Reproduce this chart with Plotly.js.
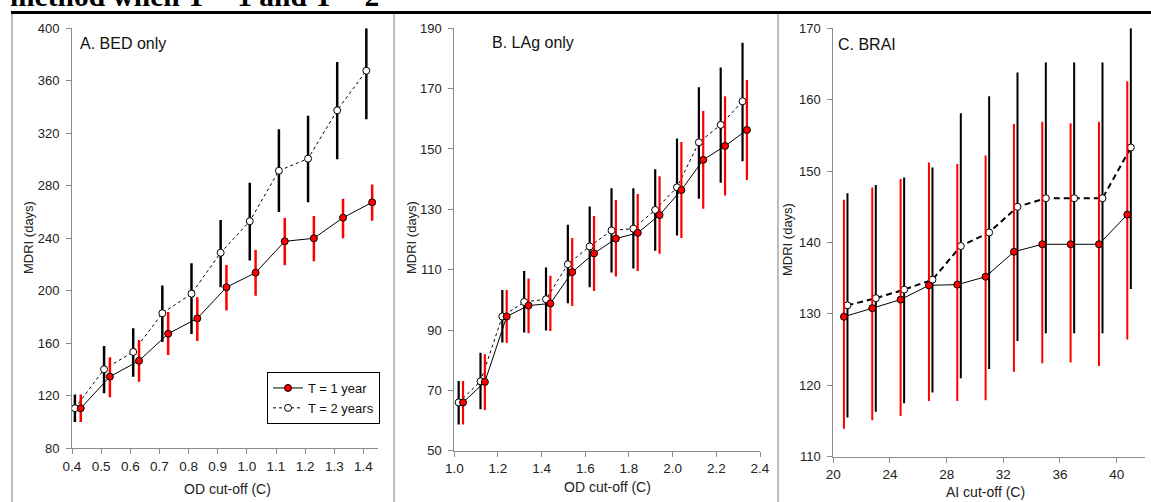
<!DOCTYPE html>
<html>
<head>
<meta charset="utf-8">
<script src="https://cdn.plot.ly/plotly-3.0.1.min.js"></script>
<style>
html,body{margin:0;padding:0;background:#fff;}
#chart{width:1151px;height:502px;}
</style>
</head>
<body>
<div id="chart"></div>
<script>
// ---------- Data ----------
// Panel A: BED only
var aX1 = [0.43, 0.53, 0.63, 0.73, 0.83, 0.93, 1.03, 1.13, 1.23, 1.33, 1.43];
var aY1 = [110.5, 134.6, 146.7, 167.3, 179, 202.7, 213.8, 237.7, 240, 255.7, 267.4];
var aHi1 = [121, 149.3, 162.5, 183.8, 195, 219.7, 231, 255.5, 257, 270.2, 281];
var aLo1 = [100, 118.9, 130.8, 151, 161.7, 184.9, 196.3, 219.4, 222.5, 240, 253.4];
var aX2 = [0.41, 0.51, 0.61, 0.71, 0.81, 0.91, 1.01, 1.11, 1.21, 1.31, 1.41];
var aY2 = [110.5, 140.2, 153.4, 182.9, 197.8, 229, 253, 291.5, 300.7, 337.5, 367.7];
var aHi2 = [121, 158, 171.4, 204, 221, 254, 282.4, 323, 333.4, 374.3, 400];
var aLo2 = [100, 122, 134.5, 161, 167, 202.7, 223, 260, 267.4, 300.2, 330.7];

// Panel B: LAg only
var bX1 = [1.04, 1.14, 1.24, 1.34, 1.44, 1.54, 1.64, 1.74, 1.84, 1.94, 2.04, 2.14, 2.24, 2.34];
var bY1 = [66, 72.8, 94.5, 98.1, 98.8, 109.2, 115.4, 120.3, 122.2, 128.1, 136.4, 146.4, 151, 156.3];
var bHi1 = [73.1, 82, 103.3, 107.1, 108, 120.5, 127.8, 133.1, 135.1, 141, 152.3, 162.6, 167.5, 172.9];
var bLo1 = [58.7, 63.5, 85.8, 88.9, 89.7, 98, 102.9, 107.7, 109.6, 115.3, 120.5, 130.2, 134.6, 139.7];
var bX2 = [1.02, 1.12, 1.22, 1.32, 1.42, 1.52, 1.62, 1.72, 1.82, 1.92, 2.02, 2.12, 2.22, 2.32];
var bY2 = [66, 73, 94.5, 99.3, 100.2, 111.8, 117.7, 123, 123.6, 129.8, 137.3, 152.2, 158, 165.8];
var bHi2 = [73.1, 82.5, 103.3, 109.6, 110.7, 124.9, 130.9, 137, 137, 143.3, 153.5, 170.5, 177, 185.2];
var bLo2 = [58.7, 63.7, 85.9, 89.2, 89.8, 98.9, 104.2, 109.1, 110.4, 116.3, 121.3, 133.5, 138.8, 145.9];

// Panel C: BRAI
var cX1 = [20.75, 22.75, 24.75, 26.75, 28.75, 30.75, 32.75, 34.75, 36.75, 38.75, 40.75];
var cY1 = [129.6, 130.8, 132, 134, 134.1, 135.2, 138.7, 139.75, 139.75, 139.75, 143.9];
var cHi1 = [146, 147.7, 148.9, 151.2, 151, 152.2, 156.6, 156.9, 156.7, 156.9, 162.6];
var cLo1 = [113.9, 115.1, 115.7, 117.8, 117.8, 117.9, 121.9, 123.1, 123.2, 122.7, 126.4];
var cX2 = [21, 23, 25, 27, 29, 31, 33, 35, 37, 39, 41];
var cY2 = [131.2, 132.2, 133.4, 134.8, 139.5, 141.4, 145, 146.2, 146.2, 146.2, 153.3];
var cHi2 = [146.9, 148.05, 149.1, 150.5, 158.1, 160.5, 163.8, 165.2, 165.2, 165.2, 170];
var cLo2 = [115.5, 116.3, 117.5, 119, 121, 122.3, 126.2, 127.3, 127.3, 127.3, 133.5];

var seriesNames = ["T = 1 year", "T = 2 years"];
var panelLabels = ["A. BED only", "B. LAg only", "C. BRAI"];
var xTitles = ["OD cut-off (C)", "OD cut-off (C)", "AI cut-off (C)"];
var yTitle = "MDRI (days)";
var pageTitle = "method when T = 1 and T = 2";

// ---------- Build ----------
var W = 1151, H = 502;
function px(x){ return x / W; }
function py(y){ return 1 - y / H; }

function plus(hi, y){ return hi.map(function(v,i){ return v - y[i]; }); }
function minus(lo, y){ return lo.map(function(v,i){ return y[i] - v; }); }

var FONT = "Liberation Sans, Arial, sans-serif";

function seriesPair(x1,y1,hi1,lo1,x2,y2,hi2,lo2,xa,ya,opt){
  var t2 = {
    x: x2, y: y2, xaxis: xa, yaxis: ya, type: 'scatter', mode: 'lines+markers',
    name: seriesNames[1], showlegend: opt.legend, legendrank: 2,
    line: {color: '#000', width: opt.dashW, dash: opt.dash},
    marker: {symbol: 'circle', size: 7, color: '#fff', line: {color: '#000', width: 1}},
    error_y: {type: 'data', symmetric: false, array: plus(hi2,y2), arrayminus: minus(lo2,y2),
              color: '#000', thickness: opt.barW, width: 0},
    cliponaxis: false
  };
  var t1 = {
    x: x1, y: y1, xaxis: xa, yaxis: ya, type: 'scatter', mode: 'lines+markers',
    name: seriesNames[0], showlegend: opt.legend, legendrank: 1,
    line: {color: '#000', width: 1},
    marker: {symbol: 'circle', size: 7, color: '#ff0000', line: {color: '#000', width: 1}},
    error_y: {type: 'data', symmetric: false, array: plus(hi1,y1), arrayminus: minus(lo1,y1),
              color: '#ff0000', thickness: opt.barW, width: 0},
    cliponaxis: false
  };
  return [t2, t1];
}

var data = []
  .concat(seriesPair(aX1,aY1,aHi1,aLo1,aX2,aY2,aHi2,aLo2,'x','y',{legend:true,dash:'3px,3px',dashW:1,barW:2.5}))
  .concat(seriesPair(bX1,bY1,bHi1,bLo1,bX2,bY2,bHi2,bLo2,'x2','y2',{legend:false,dash:'3px,3px',dashW:1,barW:2.2}))
  .concat(seriesPair(cX1,cY1,cHi1,cLo1,cX2,cY2,cHi2,cLo2,'x3','y3',{legend:false,dash:'6px,4px',dashW:2,barW:2}));

function xAxis(domain, range, dtick, anchor){
  return {domain: domain, range: range, dtick: dtick, tick0: range[0], anchor: anchor,
    showgrid: false, zeroline: false, showline: true, linecolor: '#8c8c8c', linewidth: 1,
    ticks: 'outside', ticklen: 5, tickcolor: '#8c8c8c', tickwidth: 1,
    tickfont: {family: FONT, size: 13.5, color: '#222'}, fixedrange: true};
}
function yAxis(domain, range, dtick, anchor){
  return {domain: domain, range: range, dtick: dtick, tick0: range[0], anchor: anchor,
    showgrid: false, zeroline: false, showline: true, linecolor: '#8c8c8c', linewidth: 1,
    ticks: 'outside', ticklen: 5, tickcolor: '#8c8c8c', tickwidth: 1, ticklabelstandoff: 4,
    tickfont: {family: FONT, size: 13, color: '#222'}, fixedrange: true};
}

var ann = [];
// page title (cut off at top, as in the reference)
ann.push({text: '<b>' + pageTitle + '</b>', xref: 'paper', yref: 'paper', x: px(8), y: py(-4),
  xanchor: 'left', yanchor: 'middle', showarrow: false,
  font: {family: 'Liberation Serif, Times New Roman, serif', size: 29.5, color: '#000'}});
// panel labels
var labPos = [[78, 43], [490, 42], [836, 44]];
labPos.forEach(function(p, i){
  ann.push({text: panelLabels[i], xref: 'paper', yref: 'paper', x: px(p[0]), y: py(p[1]),
    xanchor: 'left', yanchor: 'middle', showarrow: false,
    font: {family: FONT, size: 16, color: '#111'}});
});
// axis titles
var xtPos = [[227, 489], [607, 487], [985, 492]];
xtPos.forEach(function(p, i){
  ann.push({text: xTitles[i], xref: 'paper', yref: 'paper', x: px(p[0]), y: py(p[1]),
    xanchor: 'center', yanchor: 'middle', showarrow: false,
    font: {family: FONT, size: 14, color: '#222'}});
});
var ytPos = [[28, 238], [411, 238], [787, 240]];
ytPos.forEach(function(p){
  ann.push({text: yTitle, xref: 'paper', yref: 'paper', x: px(p[0]), y: py(p[1]),
    xanchor: 'center', yanchor: 'middle', showarrow: false, textangle: -90,
    font: {family: FONT, size: 13, color: '#222'}});
});

var shapes = [
  {type: 'line', xref: 'paper', yref: 'paper', x0: px(11), x1: 1, y0: py(12.5), y1: py(12.5),
   line: {color: '#000', width: 3}},
  {type: 'line', xref: 'paper', yref: 'paper', x0: px(12), x1: px(12), y0: py(14), y1: 0,
   line: {color: '#a6a6a6', width: 1.5}},
  {type: 'line', xref: 'paper', yref: 'paper', x0: px(394), x1: px(394), y0: py(14), y1: 0,
   line: {color: '#a6a6a6', width: 1.5}},
  {type: 'line', xref: 'paper', yref: 'paper', x0: px(778), x1: px(778), y0: py(14), y1: 0,
   line: {color: '#a6a6a6', width: 1.5}}
];

var layout = {
  width: W, height: H,
  margin: {l: 0, r: 0, t: 0, b: 0},
  paper_bgcolor: '#fff', plot_bgcolor: 'rgba(0,0,0,0)',
  font: {family: FONT, color: '#222'},
  showlegend: true,
  legend: {x: px(380), y: py(424), xanchor: 'right', yanchor: 'bottom',
    bgcolor: '#fff', bordercolor: '#000', borderwidth: 1,
    font: {family: FONT, size: 13, color: '#111'}, tracegroupgap: 0, itemwidth: 30,
    traceorder: 'normal'},
  xaxis: xAxis([px(72), px(378)], [0.4, 1.45], 0.1, 'y'),
  yaxis: yAxis([py(448.3), py(28.3)], [80, 400], 40, 'x'),
  xaxis2: xAxis([px(454.3), px(760)], [1.0, 2.4], 0.2, 'y2'),
  yaxis2: yAxis([py(450.7), py(28.3)], [50, 190], 20, 'x2'),
  xaxis3: xAxis([px(833.3), px(1145)], [20, 42], 4, 'y3'),
  yaxis3: yAxis([py(456.7), py(28.3)], [110, 170], 10, 'x3'),
  annotations: ann,
  shapes: shapes
};
layout.xaxis.tickformat = '.1f';
layout.xaxis2.tickformat = '.1f';

Plotly.newPlot('chart', data, layout, {staticPlot: true, displayModeBar: false});
</script>
</body>
</html>
